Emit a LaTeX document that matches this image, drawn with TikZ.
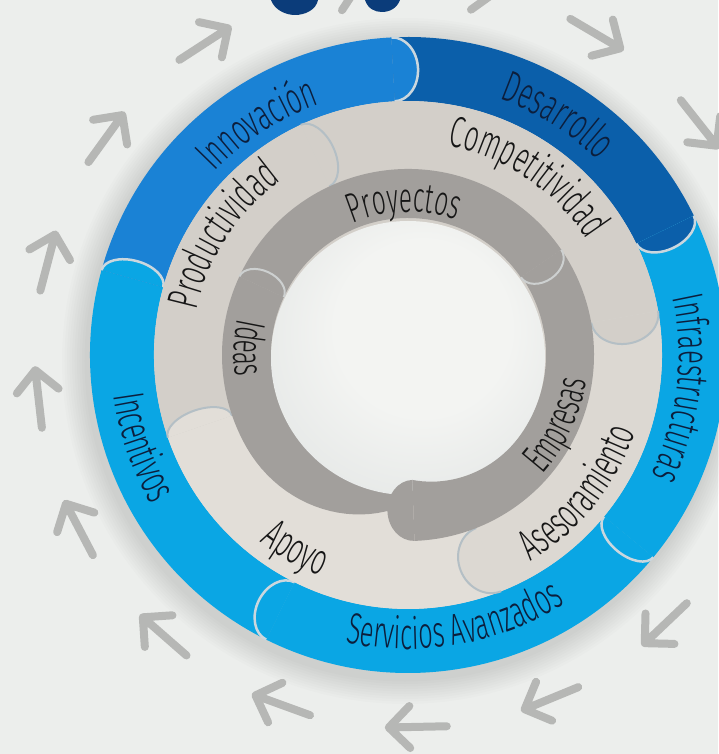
\documentclass[tikz,border=0pt]{standalone}
\usepackage{fontspec}
\usepackage{tikz}
\usetikzlibrary{decorations.text}
\newfontfamily\handfont[FakeStretch=0.58]{Fira Sans Light}
\definecolor{paper}{HTML}{ECEEEC}
\definecolor{arrowgray}{HTML}{B6B7B5}
\definecolor{titleblue}{HTML}{0B3C7A}
\definecolor{innoblue}{HTML}{1A82D5}
\definecolor{desablue}{HTML}{0B5FAA}
\definecolor{skyblue}{HTML}{0AA6E4}
\definecolor{bluecapline}{HTML}{CBD7DE}
\definecolor{sandA}{HTML}{D3CFC9}
\definecolor{sandB}{HTML}{DCD8D2}
\definecolor{sandC}{HTML}{E2DED8}
\definecolor{sandcapline}{HTML}{B4BFC5}
\definecolor{stone}{HTML}{A29F9C}
\definecolor{stonecapline}{HTML}{CDD0D0}
\definecolor{holehi}{HTML}{F3F4F2}
\definecolor{holemid}{HTML}{E0E3E2}
\definecolor{holelo}{HTML}{C2C7C7}
\definecolor{inkblue}{HTML}{0C1E3C}
\definecolor{ink}{HTML}{161616}
\pgfdeclareradialshading{holeshade}{\pgfpoint{4bp}{8bp}}{color(0bp)=(holehi); color(16bp)=(holehi); color(38bp)=(holemid); color(50bp)=(holelo)}
\newcommand{\ringseg}[5]{\fill[#1] (#4:#3) arc[start angle=#4,end angle=#5,radius=#3] -- (#5:#2) arc[start angle=#5,end angle=#4,radius=#2] -- cycle;}
\newcommand{\ringcap}[6]{\begin{scope}[shift={(#5:#3)},rotate=#5]
  \fill[#1] (#4,0) arc[start angle=0,end angle=-180,x radius=#4,y radius=#6] -- cycle;
  \draw[#2] (#4,0) arc[start angle=0,end angle=-180,x radius=#4,y radius=#6];
\end{scope}}
\newcommand{\arctext}[6]{\path[decorate,decoration={text along path,text align=center,text={|\handfont\fontsize{#2}{#2}\selectfont\color{#1}|#6}}] (#4:#3) arc[start angle=#4,end angle=#5,radius=#3];}

\begin{document}
\begin{tikzpicture}[x=1pt,y=1pt]
\tikzstyle{arrowline}=[arrowgray,line width=8pt,line cap=round,line join=round]
\tikzstyle{blueline}=[bluecapline,line width=2.5pt]
\tikzstyle{sandline}=[sandcapline,line width=2pt]
\tikzstyle{stoneline}=[stonecapline,line width=2pt]
\useasboundingbox (-408,-399) rectangle (310,355);
\fill[paper] (-408,-399) rectangle (310,355);
\foreach \k in {1,...,10} \fill[black,opacity=0.012] (-3,-6) circle ({318+2.5*\k});
\foreach \k in {0,...,16}{
  \begin{scope}[shift={({123-21.18*\k}:372)},rotate={33-21.18*\k}]
    \draw[arrowline] (-31,0) -- (27,0) (6,21) -- (27,0) -- (6,-21);
  \end{scope}}
\fill[titleblue] (-137,355) .. controls (-133,344) and (-121,340) .. (-113,340) .. controls (-103,340) and (-92,345) .. (-90,355) -- cycle;
\fill[titleblue] (-43,355) .. controls (-40,346) and (-33,343) .. (-26,343) .. controls (-18,343) and (-11,347) .. (-8,355) -- cycle;

\ringseg{desablue}{254}{318}{93}{26}
\ringseg{skyblue}{254}{318}{26}{-39.5}
\ringseg{skyblue}{254}{318}{-39.5}{-116.5}
\ringseg{skyblue}{254}{318}{-116.5}{-195.5}
\ringseg{innoblue}{254}{318}{164.5}{93}
\ringcap{innoblue}{blueline}{286}{32}{93}{25}
\ringcap{desablue}{blueline}{286}{32}{26}{20}
\ringcap{skyblue}{blueline}{286}{32}{-39.5}{18}
\ringcap{skyblue}{blueline}{286}{32}{-116.5}{24}
\ringcap{skyblue}{blueline}{286}{32}{164.5}{18}

\ringseg{sandA}{100}{254}{199}{115}
\ringseg{sandA}{100}{254}{115}{10}
\ringseg{sandB}{100}{254}{10}{-68.5}
\ringseg{sandC}{100}{254}{-68.5}{-161}
\ringcap{sandA}{sandline}{220}{34}{115}{20}
\ringcap{sandA}{sandline}{220}{34}{10}{27}
\ringcap{sandB}{sandline}{220}{34}{-68.5}{30}
\ringcap{sandC}{sandline}{220}{34}{199}{17}

\ringseg{stone}{137}{186}{155}{34.5}
\fill[stone] (155:186) arc[start angle=155,end angle=210,radius=186] -- plot[domain=210:272,samples=25] (\x:{186-40*((\x-210)/62)^2}) -- (272:137) arc[start angle=272,end angle=155,radius=137] -- cycle;
\ringcap{stone}{stoneline}{161.5}{24.5}{155}{16}
\shade[shading=holeshade] (0,-3) circle (137);
\fill[stone] (34.5:186) arc[start angle=34.5,end angle=-88,radius=186] -- (-88:125) -- plot[domain=-88:-35,samples=25] (\x:{138-13*((-35-\x)/53)^2}) -- (-35:138) arc[start angle=-35,end angle=34.5,radius=138] -- cycle;
\ringcap{stone}{stoneline}{161.5}{24.5}{34.5}{18}
\ringcap{stone}{draw=none}{155.5}{30.5}{-88}{26}

\arctext{inkblue}{44}{266}{163}{83}{Innovación}
\arctext{inkblue}{44}{272}{98}{18}{Desarrollo}
\arctext{inkblue}{44}{271}{33}{-47}{Infraestructuras}
\arctext{inkblue}{44}{294}{-125}{-35}{Servicios Avanzados}
\arctext{inkblue}{44}{297}{159}{239}{Incentivos}
\arctext{ink}{44}{216}{192}{102}{Productividad}
\arctext{ink}{44}{213}{106}{6}{Competitividad}
\arctext{ink}{44}{240}{-89}{11}{Asesoramiento}
\arctext{ink}{44}{238}{200}{280}{Apoyo}
\arctext{ink}{42}{143}{141.5}{41.5}{Proyectos}
\arctext{ink}{42}{174}{137.5}{217.5}{Ideas}
\arctext{ink}{42}{180}{-65}{15}{Empresas}
\end{tikzpicture}
\end{document}
